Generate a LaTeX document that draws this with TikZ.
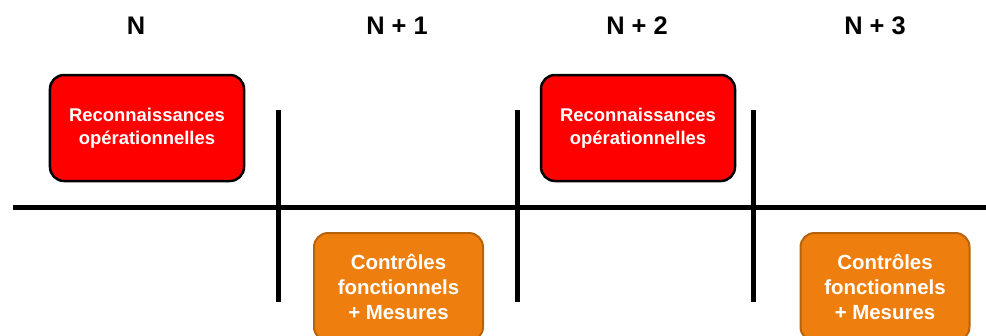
\documentclass[tikz,border=0pt]{standalone}
\usepackage{fontspec}
\setmainfont{Liberation Sans}
\usetikzlibrary{positioning}

\definecolor{recored}{RGB}{255,0,0}
\definecolor{ctrlorange}{RGB}{238,127,14}
\definecolor{ctrledge}{RGB}{183,98,12}

\tikzset{
  reco/.style={draw=black, line width=2.5bp, fill=recored, rounded corners=14bp,
    minimum width=194bp, minimum height=106bp, text=white, align=center,
    font=\bfseries\fontsize{18.5}{23}\selectfont},
  ctrl/.style={draw=ctrledge, line width=2bp, fill=ctrlorange, rounded corners=14bp,
    minimum width=169bp, minimum height=108bp, text=white, align=center,
    font=\bfseries\fontsize{20.5}{25}\selectfont},
  year/.style={font=\bfseries\fontsize{25.5}{30}\selectfont},
  axis/.style={line width=5bp}
}

\begin{document}
\begin{tikzpicture}[x=1bp,y=-1bp]
  \useasboundingbox (0,0) rectangle (986,335);

  % years
  \node[year] (n0) at (136,26) {N};
  \node[year] (n1) at (397,26) {N + 1};
  \node[year] (n2) at (637,26) {N + 2};
  \node[year] (n3) at (875,26) {N + 3};

  % time line
  \coordinate (start) at (13,207);
  \coordinate (stop) at (986,207);
  \draw[axis] (start) -- (stop);
  \foreach \x/\k in {278/1, 517/2, 753/3} {
    \coordinate (tick\k top) at (\x,110);
    \coordinate (tick\k bot) at (\x,302);
    \draw[axis] (tick\k top) -- (tick\k bot);
  }

  % activities
  \node[reco] (reco0) at (147,128) {Reconnaissances\\op\'erationnelles};
  \node[reco] (reco2) at (638,128) {Reconnaissances\\op\'erationnelles};
  \node[ctrl] (ctrl1) at (398.5,287) {Contr\^oles\\fonctionnels\\+ Mesures};
  \node[ctrl] (ctrl3) at (885,287) {Contr\^oles\\fonctionnels\\+ Mesures};
\end{tikzpicture}
\end{document}
